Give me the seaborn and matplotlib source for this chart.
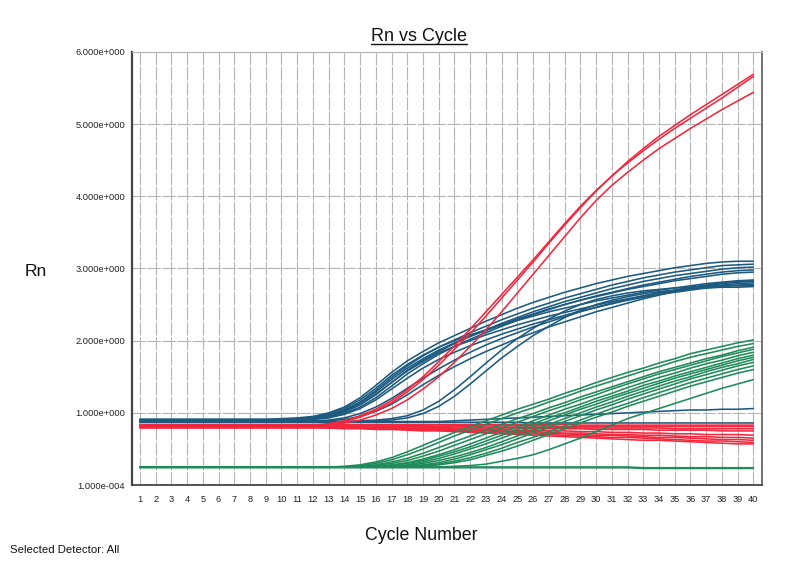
import matplotlib
matplotlib.use("Agg")
import matplotlib.pyplot as plt
from matplotlib.lines import Line2D
import pandas as pd
import seaborn as sns

cycles = list(range(1, 41))

# blue detector wells
blue_1 = [0.91, 0.91, 0.91, 0.91, 0.91, 0.91, 0.91, 0.91, 0.91, 0.92,
          0.93, 0.95, 1.00, 1.08, 1.21, 1.38, 1.56, 1.72, 1.85, 1.97,
          2.07, 2.17, 2.27, 2.36, 2.45, 2.53, 2.60, 2.67, 2.73, 2.79,
          2.84, 2.89, 2.93, 2.97, 3.01, 3.04, 3.07, 3.09, 3.10, 3.10]
blue_2 = [0.90, 0.90, 0.90, 0.90, 0.90, 0.90, 0.90, 0.90, 0.90, 0.90,
          0.91, 0.93, 0.97, 1.04, 1.15, 1.31, 1.49, 1.65, 1.79, 1.91,
          2.01, 2.11, 2.20, 2.29, 2.37, 2.45, 2.52, 2.59, 2.65, 2.71,
          2.77, 2.82, 2.87, 2.91, 2.95, 2.98, 3.01, 3.04, 3.05, 3.06]
blue_3 = [0.90, 0.90, 0.90, 0.90, 0.90, 0.90, 0.90, 0.90, 0.90, 0.90,
          0.91, 0.92, 0.95, 1.01, 1.11, 1.25, 1.42, 1.59, 1.73, 1.85,
          1.96, 2.06, 2.15, 2.24, 2.32, 2.40, 2.47, 2.54, 2.60, 2.66,
          2.72, 2.77, 2.82, 2.86, 2.90, 2.93, 2.96, 2.99, 3.01, 3.02]
blue_4 = [0.89, 0.89, 0.89, 0.89, 0.89, 0.89, 0.89, 0.89, 0.89, 0.89,
          0.90, 0.91, 0.94, 0.99, 1.08, 1.21, 1.37, 1.54, 1.68, 1.81,
          1.92, 2.02, 2.11, 2.20, 2.28, 2.36, 2.43, 2.50, 2.56, 2.62,
          2.67, 2.72, 2.77, 2.81, 2.85, 2.89, 2.92, 2.95, 2.97, 2.98]
blue_5 = [0.90, 0.90, 0.90, 0.90, 0.90, 0.90, 0.90, 0.90, 0.90, 0.90,
          0.91, 0.93, 0.97, 1.03, 1.14, 1.29, 1.46, 1.62, 1.75, 1.87,
          1.97, 2.06, 2.14, 2.22, 2.30, 2.37, 2.44, 2.50, 2.56, 2.61,
          2.66, 2.71, 2.75, 2.79, 2.83, 2.86, 2.89, 2.92, 2.94, 2.95]
blue_6 = [0.91, 0.91, 0.91, 0.91, 0.91, 0.91, 0.91, 0.91, 0.91, 0.91,
          0.92, 0.94, 0.99, 1.06, 1.18, 1.34, 1.52, 1.67, 1.80, 1.91,
          2.00, 2.08, 2.15, 2.22, 2.28, 2.34, 2.40, 2.45, 2.50, 2.55,
          2.59, 2.63, 2.67, 2.70, 2.73, 2.76, 2.79, 2.81, 2.83, 2.84]
blue_7 = [0.90, 0.90, 0.90, 0.90, 0.90, 0.90, 0.90, 0.90, 0.90, 0.90,
          0.91, 0.92, 0.96, 1.02, 1.12, 1.26, 1.42, 1.58, 1.71, 1.83,
          1.92, 2.00, 2.08, 2.15, 2.22, 2.28, 2.34, 2.39, 2.44, 2.49,
          2.54, 2.58, 2.62, 2.66, 2.69, 2.72, 2.75, 2.77, 2.79, 2.80]
blue_8 = [0.89, 0.89, 0.89, 0.89, 0.89, 0.89, 0.89, 0.89, 0.89, 0.89,
          0.90, 0.91, 0.93, 0.98, 1.06, 1.18, 1.33, 1.48, 1.62, 1.74,
          1.84, 1.93, 2.01, 2.09, 2.16, 2.23, 2.29, 2.35, 2.41, 2.46,
          2.51, 2.56, 2.60, 2.64, 2.67, 2.70, 2.73, 2.75, 2.77, 2.78]
blue_9 = [0.88, 0.88, 0.88, 0.88, 0.88, 0.88, 0.88, 0.88, 0.88, 0.88,
          0.88, 0.89, 0.90, 0.93, 0.99, 1.08, 1.20, 1.34, 1.48, 1.61,
          1.73, 1.84, 1.94, 2.03, 2.11, 2.19, 2.26, 2.33, 2.40, 2.46,
          2.52, 2.57, 2.62, 2.66, 2.70, 2.74, 2.77, 2.80, 2.82, 2.83]
blue_10 = [0.88, 0.88, 0.88, 0.88, 0.88, 0.88, 0.88, 0.88, 0.88, 0.88,
           0.88, 0.88, 0.89, 0.91, 0.95, 1.02, 1.12, 1.25, 1.39, 1.52,
           1.64, 1.75, 1.85, 1.94, 2.03, 2.11, 2.19, 2.26, 2.33, 2.40,
           2.46, 2.52, 2.58, 2.63, 2.68, 2.72, 2.76, 2.79, 2.81, 2.82]
blue_11 = [0.88, 0.88, 0.88, 0.88, 0.88, 0.88, 0.88, 0.88, 0.88, 0.88,
           0.88, 0.88, 0.88, 0.88, 0.89, 0.90, 0.92, 0.96, 1.04, 1.16,
           1.32, 1.50, 1.69, 1.87, 2.03, 2.17, 2.30, 2.41, 2.50, 2.57,
           2.62, 2.66, 2.69, 2.71, 2.73, 2.74, 2.75, 2.76, 2.76, 2.76]
blue_12 = [0.87, 0.87, 0.87, 0.87, 0.87, 0.87, 0.87, 0.87, 0.87, 0.87,
           0.87, 0.87, 0.87, 0.87, 0.88, 0.89, 0.90, 0.93, 0.99, 1.09,
           1.23, 1.40, 1.58, 1.76, 1.92, 2.07, 2.20, 2.32, 2.42, 2.50,
           2.56, 2.61, 2.65, 2.68, 2.70, 2.72, 2.73, 2.74, 2.74, 2.75]
blue_13 = [0.87, 0.87, 0.87, 0.87, 0.87, 0.87, 0.87, 0.87, 0.87, 0.87,
           0.87, 0.87, 0.87, 0.87, 0.87, 0.87, 0.87, 0.87, 0.87, 0.87,
           0.87, 0.87, 0.87, 0.87, 0.87, 0.86, 0.86, 0.86, 0.86, 0.86,
           0.86, 0.86, 0.86, 0.86, 0.86, 0.86, 0.86, 0.86, 0.86, 0.86]
blue_14 = [0.88, 0.88, 0.88, 0.88, 0.88, 0.88, 0.88, 0.88, 0.88, 0.88,
           0.88, 0.88, 0.88, 0.88, 0.88, 0.88, 0.88, 0.88, 0.88, 0.88,
           0.89, 0.90, 0.91, 0.92, 0.93, 0.94, 0.95, 0.96, 0.97, 0.98,
           0.99, 1.00, 1.01, 1.02, 1.03, 1.04, 1.04, 1.05, 1.05, 1.06]

# red detector wells
red_1 = [0.82, 0.82, 0.82, 0.82, 0.82, 0.82, 0.82, 0.82, 0.82, 0.82,
         0.82, 0.83, 0.85, 0.89, 0.96, 1.05, 1.17, 1.32, 1.50, 1.71,
         1.93, 2.16, 2.40, 2.64, 2.88, 3.12, 3.37, 3.62, 3.86, 4.08,
         4.28, 4.46, 4.63, 4.79, 4.94, 5.08, 5.22, 5.36, 5.51, 5.66]
red_2 = [0.81, 0.81, 0.81, 0.81, 0.81, 0.81, 0.81, 0.81, 0.81, 0.81,
         0.81, 0.82, 0.84, 0.88, 0.94, 1.03, 1.14, 1.29, 1.46, 1.66,
         1.88, 2.10, 2.34, 2.59, 2.84, 3.09, 3.35, 3.60, 3.84, 4.07,
         4.28, 4.48, 4.66, 4.83, 4.98, 5.13, 5.27, 5.41, 5.55, 5.69]
red_3 = [0.82, 0.82, 0.82, 0.82, 0.82, 0.82, 0.82, 0.82, 0.82, 0.82,
         0.82, 0.82, 0.83, 0.86, 0.90, 0.97, 1.06, 1.18, 1.33, 1.50,
         1.70, 1.92, 2.15, 2.40, 2.66, 2.92, 3.18, 3.44, 3.70, 3.94,
         4.15, 4.33, 4.50, 4.66, 4.80, 4.94, 5.07, 5.20, 5.32, 5.44]
red_4 = [0.84, 0.84, 0.84, 0.84, 0.84, 0.84, 0.84, 0.84, 0.84, 0.84,
         0.84, 0.84, 0.84, 0.84, 0.84, 0.84, 0.84, 0.84, 0.84, 0.84,
         0.84, 0.84, 0.84, 0.84, 0.84, 0.84, 0.84, 0.84, 0.83, 0.83,
         0.83, 0.83, 0.83, 0.83, 0.83, 0.83, 0.83, 0.83, 0.83, 0.83]
red_5 = [0.83, 0.83, 0.83, 0.83, 0.83, 0.83, 0.83, 0.83, 0.83, 0.83,
         0.83, 0.83, 0.83, 0.83, 0.83, 0.83, 0.83, 0.83, 0.82, 0.82,
         0.82, 0.82, 0.82, 0.82, 0.82, 0.82, 0.82, 0.81, 0.81, 0.81,
         0.81, 0.81, 0.81, 0.81, 0.81, 0.81, 0.81, 0.81, 0.81, 0.81]
red_6 = [0.82, 0.82, 0.82, 0.82, 0.82, 0.82, 0.82, 0.82, 0.82, 0.82,
         0.82, 0.82, 0.82, 0.82, 0.82, 0.82, 0.81, 0.81, 0.81, 0.81,
         0.81, 0.81, 0.80, 0.80, 0.80, 0.80, 0.80, 0.80, 0.79, 0.79,
         0.79, 0.79, 0.79, 0.79, 0.78, 0.78, 0.78, 0.78, 0.78, 0.78]
red_7 = [0.81, 0.81, 0.81, 0.81, 0.81, 0.81, 0.81, 0.81, 0.81, 0.81,
         0.81, 0.81, 0.81, 0.81, 0.81, 0.80, 0.80, 0.80, 0.80, 0.80,
         0.79, 0.79, 0.79, 0.79, 0.79, 0.78, 0.78, 0.78, 0.78, 0.77,
         0.77, 0.77, 0.77, 0.76, 0.76, 0.76, 0.76, 0.75, 0.75, 0.75]
red_8 = [0.82, 0.82, 0.82, 0.82, 0.82, 0.82, 0.82, 0.82, 0.82, 0.82,
         0.82, 0.82, 0.82, 0.81, 0.81, 0.81, 0.80, 0.80, 0.79, 0.79,
         0.78, 0.78, 0.77, 0.77, 0.76, 0.76, 0.75, 0.75, 0.74, 0.74,
         0.73, 0.73, 0.72, 0.72, 0.71, 0.71, 0.70, 0.70, 0.70, 0.69]
red_9 = [0.81, 0.81, 0.81, 0.81, 0.81, 0.81, 0.81, 0.81, 0.81, 0.81,
         0.81, 0.81, 0.81, 0.80, 0.80, 0.80, 0.79, 0.79, 0.78, 0.78,
         0.77, 0.76, 0.76, 0.75, 0.74, 0.74, 0.73, 0.72, 0.72, 0.71,
         0.70, 0.70, 0.69, 0.69, 0.68, 0.67, 0.67, 0.66, 0.66, 0.65]
red_10 = [0.80, 0.80, 0.80, 0.80, 0.80, 0.80, 0.80, 0.80, 0.80, 0.80,
          0.80, 0.80, 0.80, 0.79, 0.79, 0.79, 0.78, 0.78, 0.77, 0.77,
          0.76, 0.75, 0.75, 0.74, 0.73, 0.72, 0.72, 0.71, 0.70, 0.69,
          0.69, 0.68, 0.67, 0.66, 0.66, 0.65, 0.64, 0.63, 0.63, 0.62]
red_11 = [0.80, 0.80, 0.80, 0.80, 0.80, 0.80, 0.80, 0.80, 0.80, 0.80,
          0.80, 0.80, 0.79, 0.79, 0.79, 0.78, 0.78, 0.77, 0.76, 0.76,
          0.75, 0.74, 0.73, 0.72, 0.72, 0.71, 0.70, 0.69, 0.68, 0.67,
          0.66, 0.66, 0.65, 0.64, 0.63, 0.62, 0.61, 0.61, 0.60, 0.59]
red_12 = [0.79, 0.79, 0.79, 0.79, 0.79, 0.79, 0.79, 0.79, 0.79, 0.79,
          0.79, 0.79, 0.79, 0.78, 0.78, 0.77, 0.77, 0.76, 0.75, 0.75,
          0.74, 0.73, 0.72, 0.71, 0.70, 0.69, 0.68, 0.67, 0.66, 0.65,
          0.64, 0.63, 0.62, 0.62, 0.61, 0.60, 0.59, 0.58, 0.57, 0.57]

# green detector wells
green_1 = [0.25, 0.25, 0.25, 0.25, 0.25, 0.25, 0.25, 0.25, 0.25, 0.25,
           0.25, 0.25, 0.25, 0.26, 0.28, 0.32, 0.38, 0.46, 0.55, 0.64,
           0.73, 0.81, 0.89, 0.97, 1.05, 1.12, 1.19, 1.27, 1.34, 1.42,
           1.49, 1.56, 1.62, 1.69, 1.75, 1.82, 1.87, 1.92, 1.97, 2.01]
green_2 = [0.25, 0.25, 0.25, 0.25, 0.25, 0.25, 0.25, 0.25, 0.25, 0.25,
           0.25, 0.25, 0.25, 0.25, 0.27, 0.30, 0.35, 0.42, 0.50, 0.59,
           0.68, 0.76, 0.84, 0.92, 1.00, 1.07, 1.15, 1.22, 1.30, 1.37,
           1.44, 1.51, 1.58, 1.64, 1.71, 1.77, 1.82, 1.87, 1.92, 1.96]
green_3 = [0.25, 0.25, 0.25, 0.25, 0.25, 0.25, 0.25, 0.25, 0.25, 0.25,
           0.25, 0.25, 0.25, 0.25, 0.26, 0.28, 0.32, 0.37, 0.44, 0.52,
           0.60, 0.68, 0.76, 0.84, 0.92, 0.99, 1.07, 1.14, 1.22, 1.29,
           1.36, 1.43, 1.50, 1.57, 1.63, 1.69, 1.75, 1.80, 1.86, 1.91]
green_4 = [0.25, 0.25, 0.25, 0.25, 0.25, 0.25, 0.25, 0.25, 0.25, 0.25,
           0.25, 0.25, 0.25, 0.25, 0.25, 0.27, 0.30, 0.34, 0.40, 0.47,
           0.55, 0.63, 0.71, 0.79, 0.87, 0.95, 1.03, 1.10, 1.18, 1.25,
           1.33, 1.40, 1.47, 1.54, 1.60, 1.66, 1.72, 1.78, 1.83, 1.88]
green_5 = [0.25, 0.25, 0.25, 0.25, 0.25, 0.25, 0.25, 0.25, 0.25, 0.25,
           0.25, 0.25, 0.25, 0.25, 0.25, 0.26, 0.28, 0.31, 0.36, 0.42,
           0.49, 0.57, 0.65, 0.73, 0.81, 0.89, 0.97, 1.05, 1.12, 1.20,
           1.27, 1.35, 1.42, 1.49, 1.55, 1.62, 1.68, 1.73, 1.79, 1.84]
green_6 = [0.25, 0.25, 0.25, 0.25, 0.25, 0.25, 0.25, 0.25, 0.25, 0.25,
           0.25, 0.25, 0.25, 0.25, 0.25, 0.25, 0.27, 0.30, 0.34, 0.40,
           0.46, 0.53, 0.61, 0.69, 0.77, 0.85, 0.93, 1.00, 1.08, 1.16,
           1.23, 1.30, 1.38, 1.44, 1.51, 1.57, 1.63, 1.69, 1.75, 1.80]
green_7 = [0.25, 0.25, 0.25, 0.25, 0.25, 0.25, 0.25, 0.25, 0.25, 0.25,
           0.25, 0.25, 0.25, 0.25, 0.25, 0.25, 0.26, 0.28, 0.32, 0.37,
           0.43, 0.50, 0.57, 0.65, 0.73, 0.81, 0.89, 0.97, 1.05, 1.12,
           1.20, 1.27, 1.34, 1.41, 1.48, 1.54, 1.60, 1.66, 1.72, 1.77]
green_8 = [0.25, 0.25, 0.25, 0.25, 0.25, 0.25, 0.25, 0.25, 0.25, 0.25,
           0.25, 0.25, 0.25, 0.25, 0.25, 0.25, 0.25, 0.27, 0.30, 0.34,
           0.39, 0.45, 0.52, 0.60, 0.68, 0.76, 0.84, 0.92, 1.00, 1.08,
           1.15, 1.23, 1.30, 1.37, 1.44, 1.50, 1.57, 1.63, 1.68, 1.74]
green_9 = [0.25, 0.25, 0.25, 0.25, 0.25, 0.25, 0.25, 0.25, 0.25, 0.25,
           0.25, 0.25, 0.25, 0.25, 0.25, 0.25, 0.25, 0.26, 0.28, 0.31,
           0.36, 0.42, 0.49, 0.56, 0.64, 0.72, 0.80, 0.88, 0.96, 1.04,
           1.11, 1.19, 1.26, 1.33, 1.40, 1.47, 1.53, 1.59, 1.65, 1.70]
green_10 = [0.25, 0.25, 0.25, 0.25, 0.25, 0.25, 0.25, 0.25, 0.25, 0.25,
            0.25, 0.25, 0.25, 0.25, 0.25, 0.25, 0.25, 0.25, 0.27, 0.29,
            0.33, 0.38, 0.44, 0.51, 0.59, 0.66, 0.74, 0.82, 0.90, 0.98,
            1.06, 1.13, 1.21, 1.28, 1.35, 1.42, 1.48, 1.54, 1.60, 1.65]
green_11 = [0.25, 0.25, 0.25, 0.25, 0.25, 0.25, 0.25, 0.25, 0.25, 0.25,
            0.25, 0.25, 0.25, 0.25, 0.25, 0.25, 0.25, 0.25, 0.26, 0.28,
            0.31, 0.35, 0.41, 0.47, 0.54, 0.62, 0.70, 0.78, 0.86, 0.94,
            1.01, 1.09, 1.16, 1.23, 1.30, 1.37, 1.43, 1.49, 1.55, 1.60]
green_12 = [0.25, 0.25, 0.25, 0.25, 0.25, 0.25, 0.25, 0.25, 0.25, 0.25,
            0.25, 0.25, 0.25, 0.25, 0.25, 0.25, 0.25, 0.25, 0.25, 0.25,
            0.26, 0.27, 0.29, 0.33, 0.37, 0.42, 0.49, 0.57, 0.65, 0.74,
            0.83, 0.92, 0.99, 1.06, 1.13, 1.20, 1.27, 1.34, 1.40, 1.46]
green_13 = [0.25, 0.25, 0.25, 0.25, 0.25, 0.25, 0.25, 0.25, 0.25, 0.25,
            0.25, 0.25, 0.25, 0.25, 0.25, 0.25, 0.25, 0.25, 0.25, 0.25,
            0.25, 0.25, 0.25, 0.25, 0.25, 0.25, 0.25, 0.25, 0.25, 0.25,
            0.25, 0.25, 0.24, 0.24, 0.24, 0.24, 0.24, 0.24, 0.24, 0.24]
green_14 = [0.24, 0.24, 0.24, 0.24, 0.24, 0.24, 0.24, 0.24, 0.24, 0.24,
            0.24, 0.24, 0.24, 0.24, 0.24, 0.24, 0.24, 0.24, 0.24, 0.24,
            0.24, 0.24, 0.24, 0.24, 0.24, 0.24, 0.24, 0.24, 0.24, 0.24,
            0.24, 0.24, 0.23, 0.23, 0.23, 0.23, 0.23, 0.23, 0.23, 0.23]

y_ticks = [0, 1, 2, 3, 4, 5, 6]
y_ticklabels = ["1.000e-004", "1.000e+000", "2.000e+000", "3.000e+000",
                "4.000e+000", "5.000e+000", "6.000e+000"]

detectors = {
    "blue": [blue_1, blue_2, blue_3, blue_4, blue_5, blue_6, blue_7,
             blue_8, blue_9, blue_10, blue_11, blue_12, blue_13, blue_14],
    "red": [red_1, red_2, red_3, red_4, red_5, red_6, red_7, red_8,
            red_9, red_10, red_11, red_12],
    "green": [green_1, green_2, green_3, green_4, green_5, green_6, green_7,
              green_8, green_9, green_10, green_11, green_12, green_13, green_14],
}
colors = {"blue": "#1c5a80", "red": "#f2283e", "green": "#1f8b5b"}

rows = {"cycle": [], "rn": [], "well": [], "detector": []}
for det, wells in detectors.items():
    for i, w in enumerate(wells):
        assert len(w) == 40, (det, i)
        for c, v in zip(cycles, w):
            rows["cycle"].append(c)
            rows["rn"].append(v)
            rows["well"].append(f"{det}{i}")
            rows["detector"].append(det)
df = pd.DataFrame(rows)

sns.set_style("white")
plt.rcParams["font.family"] = ["Liberation Sans", "DejaVu Sans"]

fig = plt.figure(figsize=(8, 5.83), dpi=100)
ax = fig.add_axes([0.165, 0.168, 0.7875, 0.743])

sns.lineplot(data=df, x="cycle", y="rn", hue="detector", units="well",
             estimator=None, palette=colors, hue_order=["blue", "red", "green"],
             legend=False, lw=1.15, ax=ax)

ax.set_xlim(0.5, 40.55)
ax.set_ylim(0, 6)
ax.set_xticks(cycles)
ax.set_xticklabels([str(c) for c in cycles], fontsize=6.7, color="#222222")
ax.set_yticks(y_ticks)
ax.set_yticklabels(y_ticklabels, fontsize=6.7, color="#222222")
ax.tick_params(axis="both", length=0)
ax.tick_params(axis="x", pad=7)
ax.tick_params(axis="y", pad=5)
ax.grid(True, color="#b4b4b4", lw=0.8, ls=(0, (12, 1.5)))
ax.set_axisbelow(True)
ax.set_xlabel("")
ax.set_ylabel("")
for side, col, lw in [("left", "#444444", 1.6), ("bottom", "#444444", 1.3),
                      ("right", "#666666", 1.3), ("top", "#b4b4b4", 0.8)]:
    ax.spines[side].set_color(col)
    ax.spines[side].set_linewidth(lw)
    ax.spines[side].set_visible(True)

title = fig.text(0.524, 1 - 41 / 583, "Rn vs Cycle", ha="center", va="baseline",
                 fontsize=13, color="#111111")
fig.text(36 / 800, 1 - 272 / 583, "Rn", ha="center", va="center",
         fontsize=12.5, color="#111111")
fig.text(421 / 800, 1 - 536 / 583, "Cycle Number", ha="center", va="center",
         fontsize=12.8, color="#111111")
fig.text(10 / 800, 1 - 550 / 583, "Selected Detector: All", ha="left",
         va="center", fontsize=8.2, color="#111111")

fig.canvas.draw()
bb = title.get_window_extent().transformed(fig.transFigure.inverted())
fig.add_artist(Line2D([bb.x0, bb.x1], [bb.y0 + 0.002, bb.y0 + 0.002],
                      color="#111111", lw=1.0, transform=fig.transFigure))

fig.savefig("out.png", dpi=100)
